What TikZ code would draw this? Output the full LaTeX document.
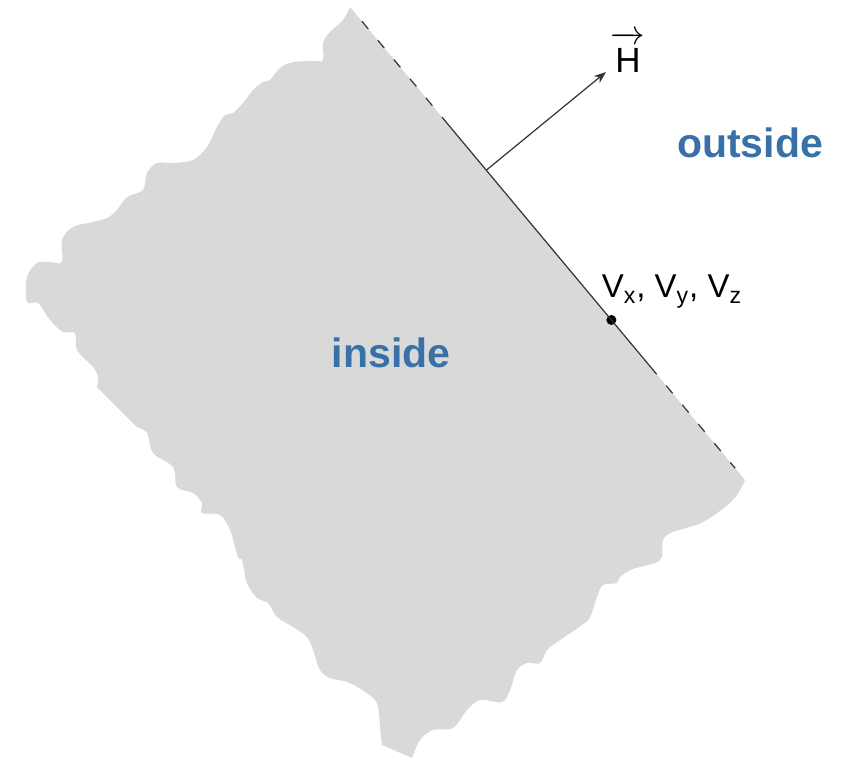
\documentclass[tikz,border=0pt]{standalone}
\usepackage{fontspec}
\setmainfont{Liberation Sans}
\usetikzlibrary{arrows.meta,calc}
\definecolor{regiongrey}{RGB}{217,217,217}
\definecolor{labelblue}{RGB}{56,112,168}
\definecolor{edgegrey}{RGB}{50,50,50}
\tikzset{
  region/.style = {labelblue, inner sep=0pt, font=\fontsize{20.5}{24}\selectfont\bfseries},
  boundary/.style = {draw=edgegrey, line width=0.6pt},
  fringe/.style = {boundary, dash pattern=on 5pt off 7.5pt},
}
\begin{document}
\begin{tikzpicture}[x=0.5pt, y=-0.5pt]
\useasboundingbox (0,0) rectangle (846,760);
% the body, cut off by a plane on its right side
\fill[regiongrey] (350,7) -- (745,480) -- plot[smooth, tension=0.55] coordinates {
  (745,480) (733,500) (703,522) (673,532) (663,540) (662,557) (655,563)
  (633,569) (620,577) (617,583) (603,585) (597,597) (590,617) (582,625)
  (560,640) (547,650) (540,663) (527,663) (517,670) (510,690) (502,702)
  (480,700) (467,710) (453,728) (433,730) (420,740) (412,758)}
  -- (382,745) -- plot[smooth, tension=0.55] coordinates {
  (382,745) (380,727) (378,707) (372,697) (350,683) (330,678) (320,670)
  (313,650) (307,637) (293,627) (277,617) (268,603) (257,598) (247,583)
  (242,560) (238,557) (230,530) (220,515) (202,513) (202,503) (193,493)
  (177,487) (173,467) (153,453) (147,433) (137,427)}
  -- (97,387) -- plot[smooth, tension=0.55] coordinates {
  (97,387) (98,377) (93,367) (77,350) (75,333) (63,332) (50,320) (38,303)
  (27,302) (27,277) (37,263) (50,262) (62,262) (62,240) (73,227) (93,222)
  (107,218) (117,210) (127,197) (143,190) (147,173) (157,163) (173,163)
  (193,160) (207,147) (217,127) (225,115) (233,113) (243,103) (253,90)
  (263,82) (270,80) (280,68) (293,62) (313,61) (323,60) (323,43) (330,32)
  (343,20) (350,7)} -- cycle;
\coordinate (top) at (350,7);
\coordinate (bot) at (745,480);
\coordinate (cut1) at ($(top)!0.03!(bot)$);
\coordinate (cut2) at ($(top)!0.24!(bot)$);
\coordinate (cut3) at ($(top)!0.76!(bot)$);
\coordinate (cut4) at ($(top)!0.975!(bot)$);
\coordinate (foot) at ($(top)!0.345!(bot)$);
\coordinate (tip) at (606,72);
\node[circle, fill=black, inner sep=0pt, minimum size=5pt] (vpt) at ($(top)!0.6617!(bot)$) {};
\begin{scope}[every edge/.style = {boundary}]
\path (cut1) edge[fringe] (cut2);
\path (cut2) edge (cut3);
\path (cut3) edge[fringe] (cut4);
\path (foot) edge[-{Stealth[length=6pt, width=4.5pt]}] (tip);
\end{scope}
\node[anchor=base west, inner sep=0pt, xshift=2.2pt, font=\fontsize{17.5}{21}\selectfont] (hvec) at (tip)
  {$\overrightarrow{\mbox{H}\rule{0pt}{15pt}}$};
\node[anchor=base west, inner sep=0pt, font=\fontsize{16.5}{20}\selectfont] (vlabel) at ([shift={(-10,-22)}]vpt)
  {V\textsubscript{x}, V\textsubscript{y}, V\textsubscript{z}};
\node[region, anchor=base] (outside) at (750,157) {outside};
\node[region, anchor=base] (inside) at (391,367) {inside};
\end{tikzpicture}
\end{document}
